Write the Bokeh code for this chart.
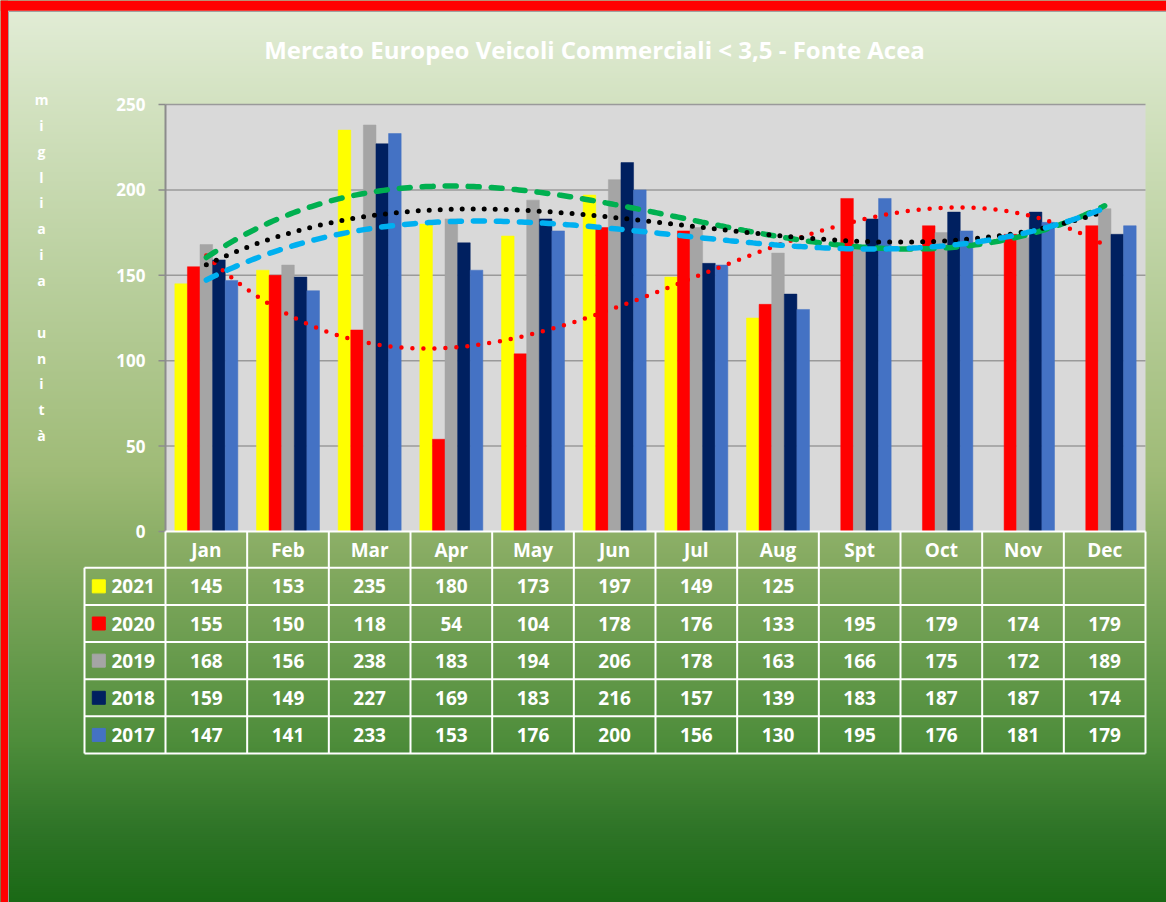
import numpy as np
from bokeh.plotting import figure
from bokeh.models import Range1d
from bokeh.core.properties import value
from bokeh.embed import file_html
from bokeh.resources import INLINE

# ---------------- data ----------------
title_text = "Mercato Europeo Veicoli Commerciali < 3,5 - Fonte Acea"
axis_title = "migliaia unità"
months = ["Jan", "Feb", "Mar", "Apr", "May", "Jun", "Jul", "Aug", "Spt", "Oct", "Nov", "Dec"]
years = ["2021", "2020", "2019", "2018", "2017"]
v2021 = [145, 153, 235, 180, 173, 197, 149, 125]
v2020 = [155, 150, 118, 54, 104, 178, 176, 133, 195, 179, 174, 179]
v2019 = [168, 156, 238, 183, 194, 206, 178, 163, 166, 175, 172, 189]
v2018 = [159, 149, 227, 169, 183, 216, 157, 139, 183, 187, 187, 174]
v2017 = [147, 141, 233, 153, 176, 200, 156, 130, 195, 176, 181, 179]
series = [v2021, v2020, v2019, v2018, v2017]
bar_colors = ["#FFFF00", "#FF0000", "#A5A5A5", "#002060", "#4472C4"]
y_ticks = [0, 50, 100, 150, 200, 250]

# trendlines (polynomial fits of the series)
trend_series = [v2020, v2019, v2018, v2017]
trend_colors = ["#FF0000", "#00B050", "#000000", "#00B0F0"]
trend_dash = ["0 11", "11 12", "0 11", "11 12"]
trend_width = [4.5, 5.5, 5, 5.5]

# ---------------- layout (pixels) ----------------
W, H = 1166, 902
PL, PR, PT, PB = 165, 1145, 104, 531
UX = (PR - PL) / 12.0
UY = (PB - PT) / 250.0


def dx(px):
    return (px - PL) / UX


def dy(py):
    return (PB - py) / UY


FONT = value("Open Sans")

p = figure(width=W, height=H, x_range=Range1d(dx(0), dx(W)), y_range=Range1d(dy(H), dy(0)),
           output_backend="svg", toolbar_location=None, min_border=0)
p.axis.visible = False
p.grid.visible = False
p.outline_line_color = None
p.background_fill_color = "#1a6915"
p.border_fill_color = "#1a6915"

# ---------------- background gradient ----------------
stops_y = [0, 12, 100, 280, 470, 560, 740, 830, 902]
stops_c = [(0xe2, 0xed, 0xd6), (0xe1, 0xec, 0xd5), (0xd3, 0xe2, 0xc1), (0xb9, 0xcf, 0x9d),
           (0x9f, 0xbb, 0x77), (0x85, 0xaa, 0x61), (0x4e, 0x8d, 0x3b), (0x2e, 0x74, 0x27),
           (0x1a, 0x69, 0x15)]
step = 2
tops, bots, cols = [], [], []
for py in range(0, H, step):
    c = [int(round(np.interp(py + step / 2, stops_y, [s[k] for s in stops_c]))) for k in range(3)]
    tops.append(dy(py))
    bots.append(dy(py + step + 1))
    cols.append("#%02x%02x%02x" % tuple(c))
p.quad(left=dx(0), right=dx(W), top=tops, bottom=bots, fill_color=cols, line_color=None)

# red frame strips + thin grey border
p.quad(left=dx(0), right=dx(W), top=dy(0), bottom=dy(10.3), fill_color="#FF0000", line_color=None)
p.quad(left=dx(0), right=dx(7.5), top=dy(0), bottom=dy(H), fill_color="#FF0000", line_color=None)
p.segment(x0=dx(8), y0=dy(11), x1=dx(W), y1=dy(11), line_color="#a0a0a0", line_width=1)
p.segment(x0=dx(8), y0=dy(11), x1=dx(8), y1=dy(H), line_color="#a0a0a0", line_width=1)

# ---------------- title ----------------
p.text(x=[dx(594)], y=[dy(49)], text=[title_text], text_color="white", text_font=FONT,
       text_font_style="bold", text_font_size="24px", text_align="center", text_baseline="middle")

# vertical axis title, one letter per line
letters = list(axis_title)
p.text(x=[dx(41)] * len(letters), y=[dy(99 + i * 25.85) for i in range(len(letters))], text=letters,
       text_color="white", text_font=FONT, text_font_style="bold", text_font_size="14px",
       text_align="center", text_baseline="middle")

# ---------------- plot area ----------------
p.quad(left=0, right=12, bottom=0, top=250, fill_color="#d9d9d9", line_color=None)
p.segment(x0=[0] * 5, y0=y_ticks[1:], x1=[12] * 5, y1=y_ticks[1:], line_color="#9a9a9a", line_width=1.5)

# bars
BW = 12.6 / UX
offs = [(i - 2) * BW for i in range(5)]
for vals, col, off in zip(series, bar_colors, offs):
    xs = [i + 0.5 + off for i in range(len(vals))]
    p.vbar(x=xs, top=vals, bottom=0, width=BW, fill_color=col, line_color=col, line_width=0.5)

# y axis line, ticks and labels
p.segment(x0=0, y0=0, x1=0, y1=250, line_color="#8c8c8c", line_width=2)
p.segment(x0=[dx(PL - 7)] * len(y_ticks), y0=y_ticks, x1=[0] * len(y_ticks), y1=y_ticks,
          line_color="#8c8c8c", line_width=1.5)
p.text(x=[dx(PL - 20)] * len(y_ticks), y=y_ticks, text=[str(t) for t in y_ticks], text_color="white",
       text_font=FONT, text_font_style="bold", text_font_size="17px", text_align="right",
       text_baseline="middle")

# trendlines
xfit = np.arange(1, 13)
xs_line = np.linspace(1, 12, 300)
for vals, col, dash, lw in zip(trend_series, trend_colors, trend_dash, trend_width):
    coef = np.polyfit(xfit, vals, 3)
    p.line(xs_line - 0.5, np.polyval(coef, xs_line), line_color=col, line_dash=dash, line_width=lw,
           line_cap="round")

# ---------------- data table ----------------
HDR_B = 567.3
ROW_H = 37.14
LEG_L = 84
row_bounds = [HDR_B + k * ROW_H for k in range(6)]
LINE = dict(line_color="white", line_width=2)
# header top
p.segment(x0=0, y0=0, x1=12, y1=0, **LINE)
# row lines
p.segment(x0=[dx(LEG_L)] * 6, y0=[dy(b) for b in row_bounds], x1=[12] * 6, y1=[dy(b) for b in row_bounds], **LINE)
# verticals
p.segment(x0=dx(LEG_L), y0=dy(row_bounds[0]), x1=dx(LEG_L), y1=dy(row_bounds[-1]), **LINE)
p.segment(x0=list(range(13)), y0=[0] * 13, x1=list(range(13)), y1=[dy(row_bounds[-1])] * 13, **LINE)

TXT = dict(text_color="white", text_font=FONT, text_font_style="bold", text_font_size="19px",
           text_baseline="middle")
p.text(x=[i + 0.5 for i in range(12)], y=[dy((PB + HDR_B) / 2)] * 12, text=months, text_align="center", **TXT)

for r, (yr, vals, col) in enumerate(zip(years, series, bar_colors)):
    yc = dy(row_bounds[r] + ROW_H / 2)
    p.text(x=[i + 0.5 for i in range(len(vals))], y=[yc] * len(vals), text=[str(v) for v in vals],
           text_align="center", **TXT)
    p.scatter(x=[dx(98.3)], y=[yc], marker="square", size=13, fill_color=col, line_color=col)
    p.text(x=[dx(111)], y=[yc], text=[yr], text_align="left", **TXT)

open("out.html", "w").write(file_html(p, INLINE))
